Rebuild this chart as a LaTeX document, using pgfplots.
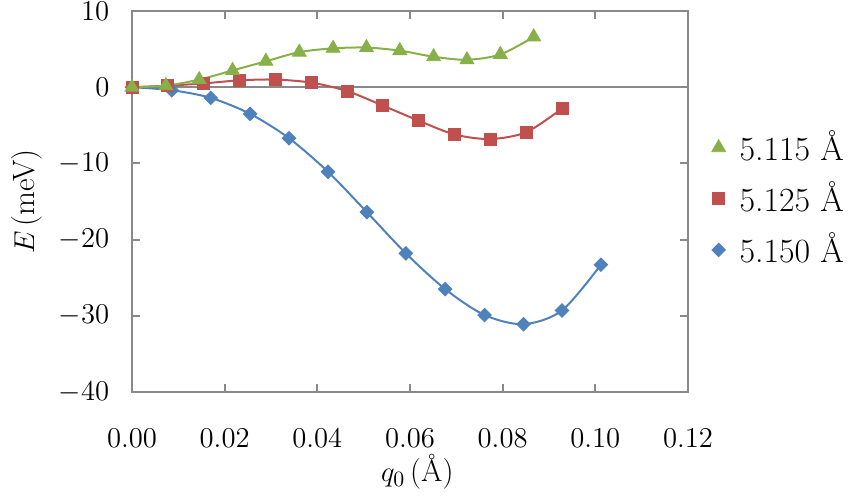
\documentclass[border=0pt]{standalone}
\usepackage{pgfplots}
\pgfplotsset{compat=1.18}
\usepackage{pgfplotstable}
\definecolor{cgreen}{RGB}{135,176,72}
\definecolor{cred}{RGB}{192,80,77}
\definecolor{cblue}{RGB}{79,129,189}
\definecolor{axgray}{RGB}{137,137,137}
\pgfplotstableread{
q E
0 0
0.0073 0.2
0.0145 1.0
0.0217 2.2
0.0289 3.4
0.0361 4.6
0.0434 5.1
0.0506 5.2
0.0578 4.8
0.0651 4.0
0.0723 3.6
0.0795 4.3
0.0867 6.6
}\greendata
\pgfplotstableread{
q E
0 0
0.0077 0.2
0.0155 0.5
0.0232 0.9
0.0309 1.0
0.0387 0.6
0.0464 -0.5
0.0541 -2.4
0.0619 -4.4
0.0696 -6.2
0.0773 -6.8
0.0851 -5.9
0.0928 -2.8
}\reddata
\pgfplotstableread{
q E
0 0
0.0086 -0.4
0.0170 -1.4
0.0255 -3.5
0.0339 -6.7
0.0423 -11.1
0.0507 -16.4
0.0591 -21.8
0.0676 -26.5
0.0761 -29.9
0.0845 -31.1
0.0928 -29.3
0.1012 -23.3
}\bluedata
\begin{document}
\fontsize{15.5}{18}\selectfont
\begin{tikzpicture}[x=1bp,y=1bp]
\path[use as bounding box] (0,0) rectangle (425,250);
\begin{axis}[
  at={(66bp,54bp)}, anchor=south west,
  width=278bp, height=190.5bp, scale only axis,
  xmin=0, xmax=0.12, ymin=-40, ymax=10,
  xtick={0,0.02,...,0.12}, ytick={-40,-30,...,10},
  axis line style={axgray, line width=1bp},
  tick style={axgray, line width=1bp},
  tick align=inside,
  major tick length=4bp,
  x tick label style={/pgf/number format/fixed, /pgf/number format/fixed zerofill, /pgf/number format/precision=2, yshift=-13bp},
  y tick label style={xshift=-6bp},
  scaled x ticks=false,
  xlabel={$q_0\,$(\AA)},
  ylabel={$E\,$(meV)},
  label style={font=\fontsize{17}{20}\selectfont},
  every axis x label/.style={at={(axis description cs:0.513,-0.21)}, anchor=center},
  every axis y label/.style={at={(axis description cs:-0.19,0.5)}, anchor=center, rotate=90},
  legend style={draw=none, fill=none, at={(axis description cs:1.042,0.507)}, anchor=west, row sep=4.3bp, column sep=5bp, inner sep=0pt, font=\fontsize{17}{20}\selectfont},
  legend cell align=left,
  legend image code/.code={\draw[#1] plot coordinates {(0cm,0cm)};},
  reverse legend,
]
\draw[axgray, line width=1bp] (axis cs:0,0) -- (axis cs:0.12,0);
\addplot[cblue, line width=1bp, smooth, no marks, forget plot] table[x=q,y=E] {\bluedata};
\addplot[only marks, mark=square*, mark size=2.4bp, mark options={rotate=45, fill=cblue, draw=cblue}] table[x=q,y=E] {\bluedata};
\addlegendentry{5.150 \AA}
\addplot[cred, line width=1bp, smooth, no marks, forget plot] table[x=q,y=E] {\reddata};
\addplot[only marks, mark=square*, mark size=3bp, mark options={fill=cred, draw=cred}] table[x=q,y=E] {\reddata};
\addlegendentry{5.125 \AA}
\addplot[cgreen, line width=1bp, smooth, no marks, forget plot] table[x=q,y=E] {\greendata};
\addplot[only marks, mark=triangle*, mark size=4bp, mark options={fill=cgreen, draw=cgreen}] table[x=q,y=E] {\greendata};
\addlegendentry{5.115 \AA}
\end{axis}
\end{tikzpicture}
\end{document}
